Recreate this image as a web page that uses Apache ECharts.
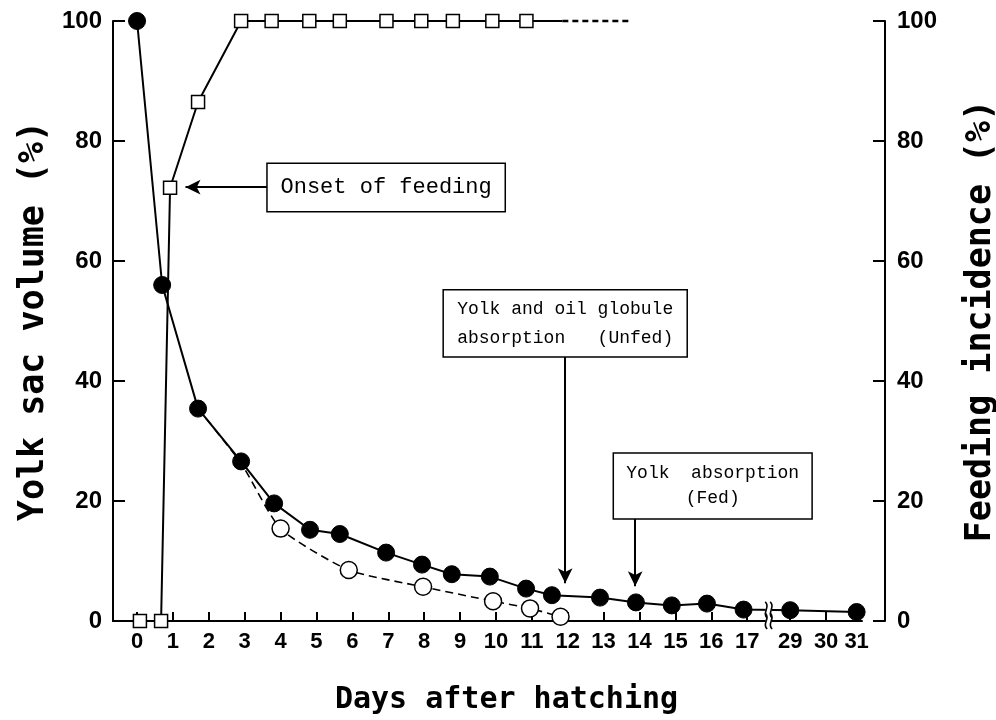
<!DOCTYPE html>
<html>
<head>
<meta charset="utf-8">
<script src="https://cdn.jsdelivr.net/npm/echarts@6/dist/echarts.min.js"></script>
<style>html,body{margin:0;padding:0;background:#fff}#c{width:996px;height:720px}</style>
</head>
<body>
<div id="c"></div>
<script>
// ---- data (days after hatching, percent) ----
const tickDays = [0,1,2,3,4,5,6,7,8,9,10,11,12,13,14,15,16,17,29,30,31];
const tickPos  = [0,1,2,3,4,5,6,7,8,9,10,11,12,13,14,15,16,17,18.2,19.2,20.05];

const fedDays   = [0,0.7,1.7,2.9,3.82,4.82,5.65,6.94,7.94,8.77,9.83,10.84,11.56,12.9,13.9,14.9,15.88,16.9,29,31];
const fedVolume = [100,56,35.4,26.6,19.6,15.2,14.5,11.4,9.4,7.8,7.4,5.4,4.3,3.9,3.1,2.6,2.9,1.9,1.8,1.5];

const unfedDays   = [1.7,2.9,4.0,5.9,7.97,9.92,10.95,11.8];
const unfedVolume = [35.4,26.3,15.4,8.5,5.7,3.3,2.1,0.7];
const unfedHiddenMarkers = 2;

const feedDays = [0.08,0.67,0.92,1.7,2.9,3.75,4.8,5.65,6.95,7.92,8.8,9.9,10.85];
const feedPct  = [0,0,72.2,86.5,100,100,100,100,100,100,100,100,100];
const feedSolidExtDays  = [10.85,11.85];
const feedDashedExtDays = [11.85,13.75];

// ---- map days to axis position (broken axis 17 -> 29) ----
function pos(d){
  for (let i=0;i<tickDays.length-1;i++){
    if (d<=tickDays[i+1]){
      const t=(d-tickDays[i])/(tickDays[i+1]-tickDays[i]);
      return tickPos[i]+t*(tickPos[i+1]-tickPos[i]);
    }
  }
  return tickPos[tickPos.length-1];
}
function labelFor(p){
  for (let i=0;i<tickPos.length;i++){ if (Math.abs(tickPos[i]-p)<1e-6) return String(tickDays[i]); }
  return '';
}

const chart = echarts.init(document.getElementById('c'), null, {renderer:'canvas'});
const black = '#000';
const tickFont = 'Liberation Sans, Arial, sans-serif';
const monoSans = 'DejaVu Sans Mono, monospace';
const monoSerif = 'Liberation Mono, Courier New, monospace';

const option = {
  animation:false,
  backgroundColor:'#fff',
  grid:{left:113,right:134,top:21,bottom:99,containLabel:false,outerBoundsMode:'none'},
  xAxis:{
    type:'value', min:-0.67, max:20.2,
    name:'Days after hatching', nameLocation:'middle', nameGap:64,
    nameTextStyle:{fontFamily:monoSans,fontSize:30,fontWeight:'bold',color:black,padding:[0,0,0,38]},
    axisLine:{show:true,onZero:false,lineStyle:{color:black,width:2}},
    axisTick:{show:true,inside:true,length:9,lineStyle:{color:black,width:2},customValues:tickPos},
    axisLabel:{show:true,margin:10,fontFamily:tickFont,fontSize:22,fontWeight:'bold',color:black,customValues:tickPos,formatter:v=>labelFor(v)},
    splitLine:{show:false}
  },
  yAxis:[{
    type:'value', min:0, max:100, interval:20, position:'left',
    name:'Yolk sac volume (%)', nameLocation:'middle', nameGap:46, nameRotate:90,
    nameTextStyle:{fontFamily:monoSans,fontSize:35,fontWeight:'bold',color:black},
    axisLine:{show:true,onZero:false,lineStyle:{color:black,width:2}},
    axisTick:{show:true,inside:true,length:12,lineStyle:{color:black,width:2}},
    axisLabel:{margin:11,fontFamily:tickFont,fontSize:24,fontWeight:'bold',color:black},
    splitLine:{show:false}
  },{
    type:'value', min:0, max:100, interval:20, position:'right', offset:23,
    name:'Feeding incidence (%)', nameLocation:'middle', nameGap:78, nameRotate:90,
    nameTextStyle:{fontFamily:monoSans,fontSize:35,fontWeight:'bold',color:black},
    axisLine:{show:true,onZero:false,lineStyle:{color:black,width:2}},
    axisTick:{show:true,inside:true,length:12,lineStyle:{color:black,width:2}},
    axisLabel:{margin:12,fontFamily:tickFont,fontSize:24,fontWeight:'bold',color:black},
    splitLine:{show:false}
  }],
  series:[
    {
      name:'Feeding extension solid', type:'line', yAxisIndex:1, symbol:'none', clip:false,
      data:feedSolidExtDays.map(d=>[pos(d),100]),
      lineStyle:{color:black,width:2}, z:2
    },
    {
      name:'Feeding extension dashed', type:'line', yAxisIndex:1, symbol:'none', clip:false,
      data:feedDashedExtDays.map(d=>[pos(d),100]),
      lineStyle:{color:black,width:2.5,type:[6,4]}, z:2
    },
    {
      name:'Feeding incidence', type:'line', yAxisIndex:1, clip:false,
      data:feedDays.map((d,i)=>[pos(d),feedPct[i]]),
      symbol:'rect', symbolSize:13,
      itemStyle:{color:'#fff',borderColor:black,borderWidth:1.5},
      lineStyle:{color:black,width:2}, z:4
    },
    {
      name:'Unfed', type:'line', yAxisIndex:0, clip:false,
      data:unfedDays.map((d,i)=>({value:[pos(d),unfedVolume[i]],symbol:i<unfedHiddenMarkers?'none':'circle'})),
      symbol:'circle', symbolSize:17, smooth:0.2,
      itemStyle:{color:'#fff',borderColor:black,borderWidth:1.5},
      lineStyle:{color:black,width:1.6,type:[8,5]}, z:3
    },
    {
      name:'Fed', type:'line', yAxisIndex:0, clip:false,
      data:fedDays.map((d,i)=>[pos(d),fedVolume[i]]),
      symbol:'circle', symbolSize:17,
      itemStyle:{color:black,borderColor:black,borderWidth:1},
      lineStyle:{color:black,width:2}, z:5,
      markArea:{
        silent:true,
        itemStyle:{color:'#fff',borderColor:black,borderWidth:1.5},
        label:{show:true,position:'inside',color:black,fontFamily:monoSerif},
        data:[
          [{name:'Onset of feeding',coord:[pos(3.62),76.3],label:{fontSize:22}},{coord:[pos(10.26),68.2]}],
          [{name:'Yolk and oil globule\nabsorption   (Unfed)',coord:[pos(8.53),55.2],label:{fontSize:18,lineHeight:29}},{coord:[pos(15.33),44.0]}],
          [{name:'Yolk  absorption\n(Fed)',coord:[pos(13.27),28.0],label:{fontSize:18,lineHeight:25}},{coord:[13.27+5.54,17.0]}]
        ]
      },
      markLine:{
        silent:true, symbol:['none','arrow'], symbolSize:[11,15],
        label:{show:false},
        lineStyle:{color:black,width:2,type:'solid'},
        data:[
          [{coord:[pos(3.62),72.3]},{coord:[pos(1.35),72.3]}],
          [{coord:[pos(11.93),44.0]},{coord:[pos(11.93),6.3]}],
          [{coord:[pos(13.88),17.0]},{coord:[pos(13.88),5.8]}]
        ]
      }
    }
  ]
};
chart.setOption(option);

// ---- axis-break marks (between 17 and 29) ----
function breakMark(cx, cy){
  const els = [];
  els.push({type:'rect',shape:{x:cx-3,y:cy-6,width:6,height:12},style:{fill:'#fff'},z:100});
  [-2.5,2.5].forEach(dx=>{
    els.push({type:'bezierCurve',
      shape:{x1:cx+dx-1,y1:cy-8,x2:cx+dx+1,y2:cy+8,cpx1:cx+dx+5,cpy1:cy-3,cpx2:cx+dx-5,cpy2:cy+3},
      style:{stroke:black,lineWidth:1.6,fill:null},z:101});
  });
  return els;
}
const breakPos = (pos(17)+pos(29))/2;
const iL = fedDays.findIndex(d=>d>16.5);
const lineVal = (fedVolume[iL]+fedVolume[iL+1])/2;
const pAxis = chart.convertToPixel({gridIndex:0},[breakPos,0]);
const pLine = chart.convertToPixel({xAxisIndex:0,yAxisIndex:0},[breakPos,lineVal]);
chart.setOption({graphic:[...breakMark(pAxis[0],pAxis[1]),...breakMark(pLine[0],pLine[1])]});
</script>
</body>
</html>
